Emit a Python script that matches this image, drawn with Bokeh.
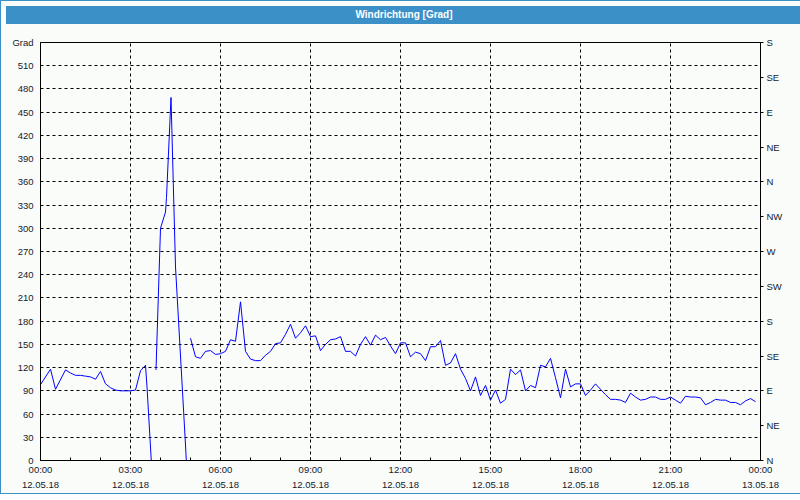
import math
from bokeh.plotting import figure
from bokeh.models import Range1d, LinearAxis, FixedTicker, Div, ColumnDataSource
from bokeh.layouts import column
from bokeh.embed import file_html
from bokeh.resources import INLINE

NaN = float("nan")

# minutes since 12.05.18 00:00 and wind direction in degrees (NaN = gap)
time_min = [0, 20, 30, 50, 60, 70, 80, 90, 100, 110, 120, 130, 140, 150, 160, 170, 180, 190, 200, 210, 213, 222,
            226,
            231, 240, 250, 252, 261, 270, 280, 290, 294,
            297,
            300, 310, 320, 330, 340, 350, 360, 370, 380, 390, 400, 410, 420, 430, 440, 450, 460, 470, 480, 490,
            500, 510, 520, 530, 540, 550, 560, 570, 580, 590, 600, 610, 620, 630, 640, 650, 660, 670, 680, 690,
            700, 710, 720, 730, 740, 750, 760, 770, 780, 790, 800, 810, 820, 830, 840, 850, 860, 870, 880, 890,
            900, 910, 920, 930, 940, 950, 960, 970, 980, 990, 1000, 1010, 1020, 1030, 1040, 1050, 1060, 1070,
            1080, 1090, 1100, 1110, 1120, 1130, 1140, 1150, 1160, 1170, 1180, 1190, 1200, 1210, 1220, 1230,
            1240, 1250, 1260, 1270, 1280, 1290, 1300, 1310, 1320, 1330, 1340, 1350, 1360, 1370, 1380, 1390,
            1400, 1410, 1420, 1430]
direction_deg = [98, 118, 92, 117, 113, 110, 110, 109, 108, 105, 115, 99, 94, 91, 90, 90, 90, 91, 116, 123, 95, -5,
                 NaN,
                 117, 300, 321, 340, 469, 250, 135, 20, -30,
                 NaN,
                 158, 134, 132, 141, 142, 137, 138, 141, 156, 154, 205, 141, 131, 129, 129, 136, 141, 151, 152, 163,
                 176, 158, 165, 174, 160, 161, 142, 150, 156, 157, 160, 141, 141, 135, 150, 160, 149, 162, 156, 159,
                 148, 138, 152, 152, 134, 140, 138, 129, 147, 147, 155, 123, 126, 138, 118, 106, 90, 108, 84, 97,
                 78, 91, 74, 79, 118, 111, 117, 90, 97, 94, 123, 121, 132, 107, 81, 118, 95, 99,
                 99, 84, 91, 99, 92, 85, 79, 79, 78, 75, 87, 82, 78, 79, 82, 82,
                 79, 79, 82, 78, 74, 83, 82, 82, 81, 72, 75, 79, 78, 78, 75, 75,
                 72, 77, 80, 76]

x_tick_hours = [0, 3, 6, 9, 12, 15, 18, 21, 24]
x_tick_labels = ["00:00\n12.05.18", "03:00\n12.05.18", "06:00\n12.05.18", "09:00\n12.05.18",
                 "12:00\n12.05.18", "15:00\n12.05.18", "18:00\n12.05.18", "21:00\n12.05.18",
                 "00:00\n13.05.18"]
x_minor_hours = list(range(0, 25))
y_left_ticks = [0, 30, 60, 90, 120, 150, 180, 210, 240, 270, 300, 330, 360, 390, 420, 450, 480, 510]
y_unit_label = "Grad"
y_unit_pos = 540
compass_ticks = [0, 45, 90, 135, 180, 225, 270, 315, 360, 405, 450, 495, 540]
compass_labels = ["N", "NE", "E", "SE", "S", "SW", "W", "NW", "N", "NE", "E", "SE", "S"]

BG = "#fafcfa"
BLUE = "#3c90c8"
FONT = "Liberation Sans"
TXT = "#141a2c"

src = ColumnDataSource(dict(hours=[t / 60 for t in time_min], deg=direction_deg))

p = figure(width=796, height=464, x_range=Range1d(0, 24), y_range=Range1d(0, 540),
           output_backend="svg", toolbar_location=None,
           min_border_left=39, min_border_right=37, min_border_top=13, min_border_bottom=31,
           background_fill_color=BG, border_fill_color=BG,
           outline_line_color="black", outline_line_width=1)

p.line(x="hours", y="deg", source=src, line_color="#0000ff", line_width=1)

# bottom axis
xa = p.xaxis[0]
xa.ticker = FixedTicker(ticks=x_tick_hours, minor_ticks=x_minor_hours)
xa.major_label_overrides = {h: l for h, l in zip(x_tick_hours, x_tick_labels)}
xa.major_tick_in = 0
xa.major_tick_out = 0
xa.minor_tick_in = 3
xa.minor_tick_out = 0
xa.major_label_standoff = 3
xa.major_label_text_font = FONT
xa.major_label_text_font_size = "9.5px"
xa.major_label_text_color = TXT
xa.major_label_text_line_height = 1.45
xa.axis_line_color = "black"

# left axis
ya = p.yaxis[0]
ya.ticker = FixedTicker(ticks=y_left_ticks + [y_unit_pos])
ya.major_label_overrides = {y_unit_pos: y_unit_label}
ya.major_tick_in = 0
ya.major_tick_out = 0
ya.minor_tick_in = 0
ya.minor_tick_out = 0
ya.major_label_standoff = 7
ya.major_label_text_font = FONT
ya.major_label_text_font_size = "9.5px"
ya.major_label_text_color = TXT
ya.axis_line_color = "black"

# right compass axis
p.extra_y_ranges = {"compass": Range1d(0, 540)}
ra = LinearAxis(y_range_name="compass", ticker=FixedTicker(ticks=compass_ticks),
                major_label_overrides={t: l for t, l in zip(compass_ticks, compass_labels)},
                major_tick_in=0, major_tick_out=3, minor_tick_in=0, minor_tick_out=0,
                major_label_standoff=3, major_label_text_font=FONT,
                major_label_text_font_size="9.5px", major_label_text_color=TXT,
                axis_line_color="black")
p.add_layout(ra, "right")

p.xgrid[0].ticker = FixedTicker(ticks=x_tick_hours)
p.ygrid[0].ticker = FixedTicker(ticks=y_left_ticks)
for g in (p.xgrid[0], p.ygrid[0]):
    g.grid_line_color = "black"
    g.grid_line_dash = "3 3"
    g.grid_line_width = 1

title = Div(text="Windrichtung [Grad]", width=796, height=18,
            styles={"background-color": BLUE, "color": "white", "font-family": FONT,
                    "font-weight": "bold", "font-size": "10px", "text-align": "center",
                    "line-height": "18px"})

layout = column(title, p, styles={"border": "1px solid " + BLUE, "background-color": BG})

open("out.html", "w").write(file_html(layout, INLINE))
